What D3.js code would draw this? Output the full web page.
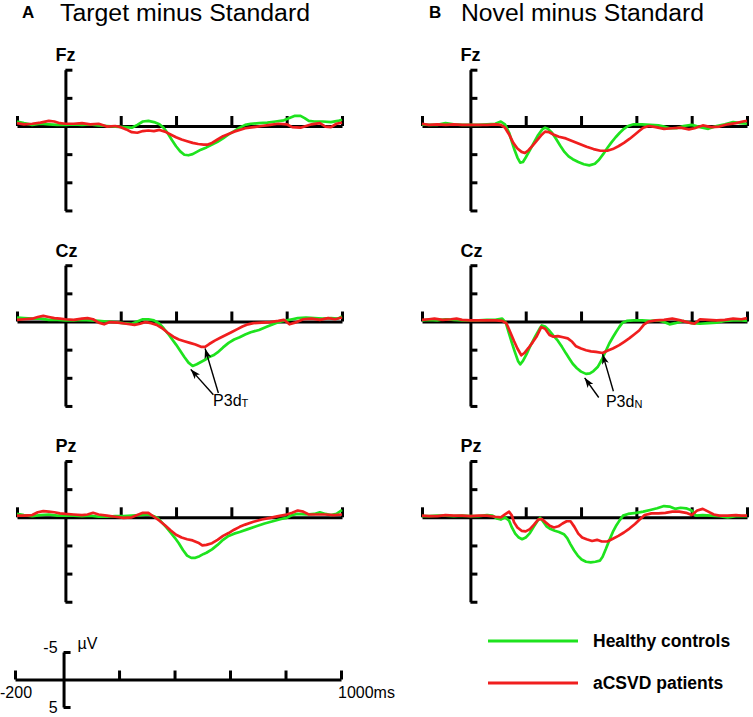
<!DOCTYPE html>
<html><head><meta charset="utf-8">
<script src="https://cdn.jsdelivr.net/npm/d3@7"></script>
<style>body{margin:0;background:#fff} svg{display:block;font-family:"Liberation Sans",Arial,sans-serif}</style>
</head><body><svg id="c" width="753" height="717"></svg>
<script>
// ---------- labels ----------
const panelLetters = ["A", "B"];
const panelTitles = ["Target minus Standard", "Novel minus Standard"];
const electrodes = ["Fz", "Cz", "Pz"];
const groups = ["Healthy controls", "aCSVD patients"];
const xTickTimes = [-175, 200, 400, 600, 800, 1000];
const yTickValues = [-10, -5, 5, 10, 15];
const scaleBarXLabels = ["-200", "1000ms"];
const scaleBarYLabels = ["-5", "5"];
const scaleBarUnit = "µV";

// ---------- data: [time ms, amplitude µV] (negative plotted up) ----------
const A_Fz_HC = [[-175,-0.8],[-150,-0.5],[-120,-0.2],[-90,-0.4],[-60,-0.3],[-30,-0.2],[0,-0.2],[30,-0.3],[60,-0.2],[90,-0.3],[120,-0.1],[150,0],[180,0.1],[210,0.2],[240,0.3],[260,-0.2],[280,-0.8],[300,-0.9],[320,-0.7],[340,-0.3],[355,0.3],[370,1.3],[385,2.5],[400,3.6],[415,4.5],[430,5.1],[445,5.2],[460,5.0],[475,4.6],[490,4.2],[510,3.8],[530,3.3],[550,2.8],[570,2.2],[590,1.5],[610,0.9],[630,0.3],[650,-0.2],[670,-0.4],[700,-0.5],[730,-0.6],[760,-0.8],[790,-1.0],[810,-1.4],[830,-1.8],[850,-1.8],[865,-1.4],[880,-0.9],[900,-0.8],[930,-0.8],[960,-0.7],[985,-0.9],[1000,-1.1]];
const A_Fz_PT = [[-175,-0.5],[-150,-0.3],[-120,-0.4],[-90,-0.6],[-60,-0.9],[-40,-0.8],[-20,-0.5],[0,-0.4],[30,-0.4],[60,-0.5],[90,-0.3],[120,-0.4],[150,0.1],[180,0.0],[200,0.2],[220,0.6],[240,1.1],[260,1.2],[280,0.9],[300,0.8],[320,0.9],[340,0.7],[360,1.0],[380,1.5],[400,2.0],[420,2.4],[440,2.7],[460,3.0],[480,3.2],[500,3.3],[515,3.3],[530,3.0],[550,2.4],[570,1.8],[590,1.4],[610,1.0],[630,0.7],[650,0.4],[680,0.2],[710,0],[740,-0.2],[770,-0.4],[800,-0.3],[820,0.2],[850,0.3],[870,0],[890,-0.3],[920,-0.5],[940,0.1],[960,0.2],[980,-0.4],[1000,-0.6]];
const A_Cz_HC = [[-175,-0.7],[-150,-0.6],[-120,-0.5],[-90,-0.5],[-60,-0.3],[-30,-0.3],[0,-0.2],[30,-0.2],[60,-0.3],[90,-0.2],[120,-0.1],[150,0],[180,0.1],[210,0.3],[240,0.4],[260,0],[280,-0.4],[300,-0.4],[320,-0.2],[340,0.4],[355,1.2],[370,2.1],[385,3.1],[400,4.1],[415,5.2],[430,6.3],[445,7.3],[460,7.9],[475,7.6],[490,7.2],[505,6.8],[520,6.3],[535,6.0],[550,5.5],[570,4.6],[590,3.8],[610,3.2],[630,2.8],[650,2.3],[670,1.9],[700,1.5],[730,0.9],[760,0.3],[780,0],[800,-0.2],[820,-0.4],[840,-0.6],[870,-0.7],[900,-0.6],[930,-0.5],[960,-0.6],[985,-0.5],[1000,-0.9]];
const A_Cz_PT = [[-175,-0.3],[-150,-0.4],[-120,-0.5],[-100,-0.8],[-80,-1.0],[-60,-0.8],[-40,-0.6],[-20,-0.5],[0,-0.4],[30,-0.3],[60,-0.5],[80,-0.6],[100,-0.4],[120,0.2],[140,0.5],[160,0.1],[190,0.2],[220,0.4],[250,0.6],[270,0.4],[290,0.1],[310,0.3],[330,0.6],[350,1.2],[370,2.0],[390,2.7],[410,3.2],[430,3.5],[450,3.8],[470,4.1],[490,4.5],[505,4.5],[520,4.0],[540,3.4],[560,2.9],[580,2.4],[600,1.9],[620,1.4],[640,0.9],[660,0.5],[680,0.3],[710,0.2],[740,0.1],[770,-0.1],[790,-0.3],[810,0.5],[830,0.2],[860,-0.4],[890,-0.5],[920,-0.3],[950,-0.6],[975,-0.4],[1000,-0.7]];
const A_Pz_HC = [[-175,-0.6],[-150,-0.4],[-120,-0.2],[-90,-0.4],[-60,-0.5],[-30,-0.3],[0,-0.3],[30,-0.3],[60,-0.2],[90,-0.3],[120,-0.1],[150,-0.1],[180,-0.2],[210,-0.2],[240,-0.3],[270,-0.4],[300,-0.5],[320,-0.2],[335,0.2],[350,1.0],[365,1.8],[380,2.7],[395,3.6],[410,4.6],[425,5.8],[440,6.8],[455,7.2],[470,7.2],[485,6.9],[500,6.5],[510,6.3],[530,5.7],[550,4.9],[570,4.0],[590,3.3],[610,2.9],[630,2.6],[660,2.1],[690,1.6],[720,1.1],[750,0.7],[780,0.3],[800,0.1],[820,-0.4],[840,-0.6],[870,-0.5],[900,-0.6],[920,-0.9],[940,-0.6],[960,-0.4],[980,-0.6],[1000,-1.3]];
const A_Pz_PT = [[-175,-0.3],[-150,-0.3],[-120,-0.4],[-100,-0.9],[-80,-1.1],[-60,-1.0],[-40,-0.9],[-20,-0.7],[0,-0.6],[30,-0.5],[60,-0.4],[80,-0.5],[100,-0.8],[120,-0.5],[150,-0.3],[180,-0.1],[210,0.1],[240,0],[260,-0.4],[280,-0.8],[300,-0.8],[320,-0.1],[340,0.6],[360,1.4],[380,2.3],[400,3.1],[420,3.6],[440,3.9],[460,4.1],[480,4.5],[495,5.0],[510,4.9],[530,4.6],[550,4.0],[570,3.3],[590,2.8],[610,2.2],[630,1.7],[650,1.3],[680,0.8],[710,0.4],[740,0.1],[770,-0.2],[800,-0.5],[820,-0.8],[840,-1.2],[860,-1.0],[880,-0.5],[910,-0.5],[940,-0.5],[970,-0.4],[1000,-0.5]];
const B_Fz_HC = [[-175,-0.3],[-150,-0.2],[-120,-0.2],[-90,-0.5],[-60,-0.3],[-30,-0.2],[0,-0.2],[30,-0.2],[60,-0.3],[90,-0.4],[110,-0.8],[125,-0.3],[140,1.2],[150,2.8],[160,4.3],[170,5.6],[180,6.5],[190,6.4],[200,5.6],[215,4.3],[230,2.9],[245,1.6],[260,0.6],[270,0.3],[280,0.5],[295,1.2],[310,2.3],[325,3.5],[340,4.6],[355,5.4],[370,5.9],[390,6.4],[410,6.8],[430,7.0],[450,6.7],[465,6.0],[480,5.0],[495,3.9],[510,2.9],[525,2.0],[540,1.2],[555,0.5],[570,0],[590,-0.3],[620,-0.3],[650,-0.2],[680,-0.1],[700,0.1],[720,0.4],[745,0.4],[770,0],[800,-0.2],[830,0.2],[860,0.5],[890,0],[920,-0.3],[950,-0.7],[975,-0.5],[1000,-0.4]];
const B_Fz_PT = [[-175,-0.4],[-150,-0.2],[-120,-0.3],[-90,-0.2],[-60,-0.3],[-30,-0.2],[0,-0.2],[30,-0.2],[60,-0.2],[90,-0.3],[110,-0.2],[125,0.3],[140,1.5],[155,3.0],[170,4.0],[185,4.6],[197,4.8],[210,4.3],[225,3.5],[240,2.6],[255,1.7],[270,1.0],[285,1.1],[300,1.5],[320,1.9],[345,2.2],[370,2.7],[395,3.2],[420,3.7],[445,4.1],[470,4.4],[495,4.4],[515,4.1],[535,3.6],[555,3.0],[575,2.3],[595,1.5],[610,0.9],[625,0.3],[645,0],[670,0.2],[700,0.5],[730,0.4],[760,0.3],[790,0.6],[810,0.4],[840,-0.1],[870,0.2],[900,0.1],[930,-0.3],[960,-0.5],[985,-0.8],[1000,-0.9]];
const B_Cz_HC = [[-175,-0.2],[-150,-0.3],[-120,-0.2],[-90,-0.4],[-60,-0.3],[-30,-0.2],[0,-0.2],[30,-0.2],[60,-0.3],[90,-0.3],[115,-0.5],[128,0.2],[140,2.2],[150,3.8],[160,5.3],[172,7.0],[180,7.6],[190,7.0],[205,5.6],[220,4.0],[235,2.6],[250,1.3],[258,0.7],[270,0.9],[285,1.6],[300,2.5],[316,3.4],[331,4.5],[346,5.7],[358,6.6],[370,7.5],[385,8.3],[400,8.9],[418,9.3],[432,9.2],[445,8.8],[460,8.1],[475,6.8],[490,5.2],[502,3.9],[515,2.8],[526,1.9],[538,1.0],[550,0.2],[565,-0.1],[590,-0.2],[620,-0.2],[650,-0.1],[680,-0.2],[700,0.1],[720,0.5],[740,0.3],[770,-0.1],[800,0.3],[830,0.4],[860,0.3],[890,0.2],[920,-0.1],[950,-0.2],[980,-0.2],[1000,-0.1]];
const B_Cz_PT = [[-175,-0.3],[-150,-0.4],[-130,-0.5],[-100,-0.3],[-70,-0.4],[-50,-0.5],[-30,-0.3],[0,-0.2],[30,-0.2],[60,-0.2],[90,-0.2],[115,-0.1],[130,0.3],[145,2.0],[158,3.5],[170,4.8],[184,6.0],[195,5.6],[210,4.7],[225,3.7],[240,2.6],[256,1.0],[270,1.3],[286,2.4],[300,2.7],[316,2.6],[335,2.8],[352,3.0],[368,3.6],[382,4.4],[400,4.8],[418,5.1],[436,5.3],[454,5.4],[478,5.6],[495,5.2],[515,4.8],[538,4.2],[556,3.6],[574,3.0],[592,2.3],[610,1.6],[628,0.5],[645,0],[670,-0.2],[700,-0.3],[730,-0.5],[760,-0.2],[790,0.2],[810,0.4],[830,-0.4],[860,-0.3],[890,-0.2],[920,-0.3],[950,-0.5],[980,-0.4],[1000,-0.6]];
const B_Pz_HC = [[-175,-0.2],[-150,-0.2],[-120,-0.3],[-90,-0.3],[-60,-0.2],[-30,-0.3],[0,-0.2],[30,-0.2],[60,-0.4],[80,-0.3],[95,0.2],[110,0.4],[125,0],[140,0.6],[150,1.8],[162,2.9],[175,3.6],[187,3.9],[200,3.6],[215,2.8],[230,1.6],[243,0.6],[252,0.1],[262,0.7],[275,1.6],[290,2.1],[305,2.4],[320,2.6],[338,3.0],[350,3.7],[362,4.8],[375,5.9],[388,6.8],[402,7.5],[418,7.9],[435,8.0],[452,7.9],[468,7.7],[478,7.0],[490,5.6],[502,4.1],[515,2.6],[528,1.4],[540,0.5],[552,-0.3],[570,-0.6],[600,-0.8],[625,-1.0],[650,-1.3],[675,-1.6],[700,-2.0],[720,-1.9],[740,-1.5],[760,-1.7],[780,-1.6],[800,-1.2],[815,-0.3],[840,-0.4],[870,-0.3],[900,-0.2],[930,0],[960,-0.2],[1000,-0.2]];
const B_Pz_PT = [[-175,-0.3],[-150,-0.2],[-120,-0.2],[-90,-0.4],[-60,-0.3],[-30,-0.3],[0,-0.2],[30,-0.3],[60,-0.3],[90,-0.1],[110,0],[125,-0.5],[140,-1.0],[150,-0.3],[158,0.9],[170,1.8],[185,2.4],[200,2.5],[215,2.1],[230,1.3],[245,0.4],[258,0.3],[272,0.9],[287,1.5],[302,1.8],[318,1.6],[333,1.1],[348,0.7],[362,0.7],[376,1.7],[390,2.9],[404,3.6],[420,3.9],[440,4.2],[458,4.0],[475,4.3],[495,4.3],[515,3.8],[535,3.3],[555,2.7],[575,2.0],[595,1.2],[612,0.4],[630,-0.4],[655,-0.7],[680,-0.7],[705,-0.8],[730,-1.0],[755,-1.0],[780,-0.8],[800,-0.4],[820,-1.2],[840,-1.5],[860,-1.0],[880,-0.5],[900,-0.3],[930,-0.3],[960,-0.4],[980,-0.3],[1000,-0.3]];

const series = [
  [[A_Fz_HC, A_Fz_PT], [A_Cz_HC, A_Cz_PT], [A_Pz_HC, A_Pz_PT]],
  [[B_Fz_HC, B_Fz_PT], [B_Cz_HC, B_Cz_PT], [B_Pz_HC, B_Pz_PT]]
];

// annotations in data units (time, µV) of the Cz plots
const annotations = [
  {panel: 0, electrode: 1, label: "P3d", sub: "T", at: [534, 15.0],
   arrows: [{from: [535, 13.0], to: [453, 8.5]}, {from: [553, 12.7], to: [505, 4.8]}]},
  {panel: 1, electrode: 1, label: "P3d", sub: "N", at: [490, 15.1],
   arrows: [{from: [464, 13.5], to: [413, 10.0]}, {from: [517, 12.4], to: [478, 5.8]}]}
];

// ---------- layout ----------
const colRange = [[17, 342], [422, 747]];
const rowBase = [126, 321.5, 517.3];
const pxPerUV = 5.63;
const timeDomain = [-175, 1000];
const colors = ["#1ee31e", "#f01e1e"];

const svg = d3.select("#c");
svg.append("rect").attr("width", 753).attr("height", 717).attr("fill", "#fff");
svg.append("defs").append("marker")
  .attr("id", "ah").attr("viewBox", "0 0 10 10").attr("refX", 10).attr("refY", 5)
  .attr("markerWidth", 10).attr("markerHeight", 7).attr("markerUnits", "userSpaceOnUse")
  .attr("orient", "auto").attr("preserveAspectRatio", "none")
  .append("path").attr("d", "M0,0L10,5L0,10L2.5,5z").attr("fill", "#000");

function styleAxis(g) {
  g.selectAll(".domain, .tick line").attr("stroke", "#000").attr("stroke-width", 3);
}

const titleX = [[22, 60], [429, 461]];
const titleLen = [250, 243];
panelLetters.forEach((p, pi) => {
  svg.append("text").attr("x", titleX[pi][0]).attr("y", 18).attr("font-weight", "bold")
    .attr("font-size", 17).text(p);
  svg.append("text").attr("x", titleX[pi][1]).attr("y", 21).attr("font-size", 23)
    .attr("textLength", titleLen[pi]).attr("lengthAdjust", "spacingAndGlyphs").text(panelTitles[pi]);

  electrodes.forEach((e, ei) => {
    const x = d3.scaleLinear().domain(timeDomain).range(colRange[pi]);
    const b = rowBase[ei];
    const y = d3.scaleLinear().domain([-10, 15]).range([b - 10 * pxPerUV, b + 15 * pxPerUV]);
    const g = svg.append("g");

    g.append("g").attr("transform", `translate(0,${b})`)
      .call(d3.axisTop(x).tickValues(xTickTimes).tickSize(10).tickSizeOuter(0).tickFormat(""))
      .call(styleAxis);
    g.append("g").attr("transform", `translate(${x(0)},0)`)
      .call(d3.axisRight(y).tickValues(yTickValues).tickSize(7).tickSizeOuter(0).tickFormat(""))
      .call(styleAxis);

    g.append("text").attr("x", x(0) - 10).attr("y", b - 65).attr("font-weight", "bold")
      .attr("font-size", 18).text(e);

    const line = d3.line().x(d => x(d[0])).y(d => y(d[1]));
    series[pi][ei].forEach((s, si) => {
      g.append("path").datum(s).attr("d", line).attr("fill", "none")
        .attr("stroke", colors[si]).attr("stroke-width", 2.7).attr("stroke-linejoin", "round");
    });

    annotations.filter(a => a.panel === pi && a.electrode === ei).forEach(a => {
      a.arrows.forEach(ar => {
        g.append("line").attr("x1", x(ar.from[0])).attr("y1", y(ar.from[1]))
          .attr("x2", x(ar.to[0])).attr("y2", y(ar.to[1]))
          .attr("stroke", "#000").attr("stroke-width", 1.4).attr("marker-end", "url(#ah)");
      });
      const t = g.append("text").attr("x", x(a.at[0])).attr("y", y(a.at[1])).attr("font-size", 16);
      t.append("tspan").text(a.label);
      t.append("tspan").attr("font-size", 11).attr("dy", 1).text(a.sub);
    });
  });
});

// ---------- scale bar ----------
const sbX = d3.scaleLinear().domain(timeDomain).range([15, 341]);
const sbY = d3.scaleLinear().domain([-5, 5]).range([652, 707]);
const sb = svg.append("g");
sb.append("g").attr("transform", `translate(0,${sbY(0)})`)
  .call(d3.axisTop(sbX).tickValues(xTickTimes).tickSize(9).tickSizeOuter(0).tickFormat(""))
  .call(styleAxis);
sb.append("g").attr("transform", `translate(${sbX(0)},0)`)
  .call(d3.axisRight(sbY).tickValues([-5, 5]).tickSize(7).tickSizeOuter(0).tickFormat(""))
  .call(styleAxis);
sb.append("text").attr("x", sbX(0) - 6).attr("y", sbY(-5) + 1).attr("text-anchor", "end")
  .attr("font-size", 16).text(scaleBarYLabels[0]);
sb.append("text").attr("x", sbX(0) - 6).attr("y", sbY(5) + 6).attr("text-anchor", "end")
  .attr("font-size", 16).text(scaleBarYLabels[1]);
sb.append("text").attr("x", sbX(0) + 14).attr("y", sbY(-5) - 3).attr("font-size", 16).text(scaleBarUnit);
sb.append("text").attr("x", 0).attr("y", sbY(0) + 18).attr("font-size", 16).text(scaleBarXLabels[0]);
sb.append("text").attr("x", sbX(1000) - 3).attr("y", sbY(0) + 18).attr("font-size", 16).text(scaleBarXLabels[1]);

// ---------- legend ----------
const legY = [641, 683];
groups.forEach((gname, i) => {
  svg.append("line").attr("x1", 488).attr("x2", 578).attr("y1", legY[i]).attr("y2", legY[i])
    .attr("stroke", colors[i]).attr("stroke-width", 3);
  svg.append("text").attr("x", 593).attr("y", legY[i] + 6).attr("font-weight", "bold")
    .attr("font-size", 17.5).text(gname);
});
</script>
</body></html>
